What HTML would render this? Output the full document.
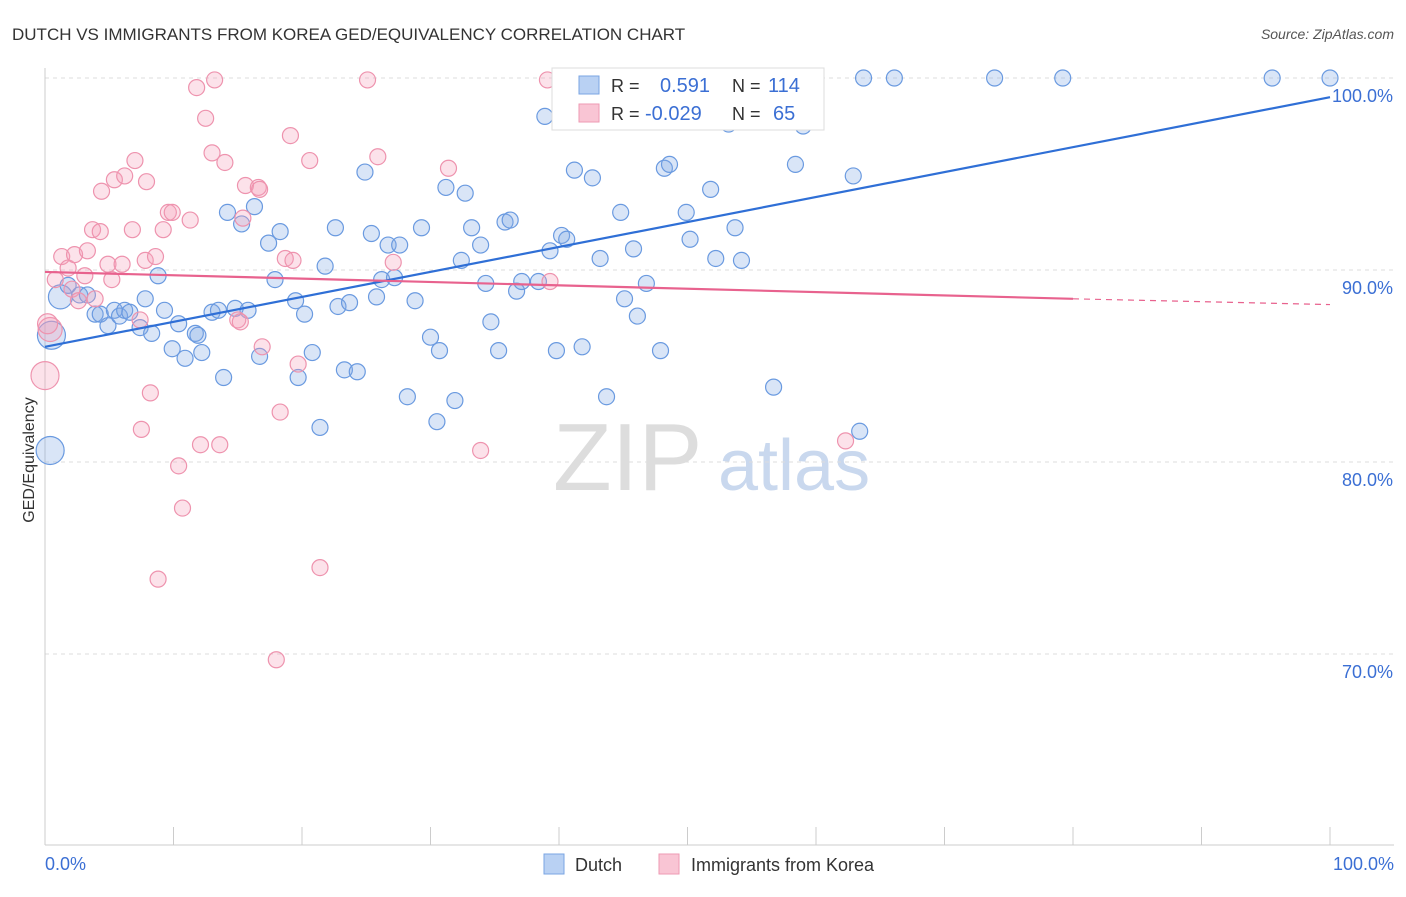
<!DOCTYPE html>
<html><head><meta charset="utf-8"><style>
body{margin:0;background:#fff;font-family:"Liberation Sans",sans-serif;}
svg text{font-family:"Liberation Sans",sans-serif;}
</style></head><body>
<svg id="chart" width="1406" height="892">
<text x="12" y="40" font-size="17" fill="#333">DUTCH VS IMMIGRANTS FROM KOREA GED/EQUIVALENCY CORRELATION CHART</text>
<text x="1394" y="39" font-size="14" fill="#555" font-style="italic" text-anchor="end">Source: ZipAtlas.com</text>
<text x="34" y="460" font-size="16" fill="#333" transform="rotate(-90 34 460)" text-anchor="middle">GED/Equivalency</text>
<g>
<text x="553" y="490" font-size="96" fill="#ddd" font-family="Liberation Serif">ZIP</text>
<text x="718" y="490" font-size="72" fill="#c9d8ee">atlas</text>
</g>
<g id="grid"></g><g id="axes"></g><g id="pts"></g><g id="trend"></g>
<g>
<rect x="552" y="68" width="272" height="62" fill="#fff" stroke="#ddd"/>
<rect x="579" y="76" width="20" height="18" fill="#b9d1f3" stroke="#7aa5e3"/>
<rect x="579" y="104" width="20" height="18" fill="#f9c5d4" stroke="#ee9ab3"/>
<text x="611" y="92" font-size="18" fill="#333">R = </text><text x="660" y="92" font-size="20" fill="#3b6fd4">0.591</text>
<text x="732" y="92" font-size="18" fill="#333">N = </text><text x="768" y="92" font-size="20" fill="#3b6fd4">114</text>
<text x="611" y="120" font-size="18" fill="#333">R = </text><text x="645" y="120" font-size="20" fill="#3b6fd4">-0.029</text>
<text x="732" y="120" font-size="18" fill="#333">N = </text><text x="773" y="120" font-size="20" fill="#3b6fd4">65</text>
</g>
<g>
<rect x="544" y="854" width="20" height="20" fill="#b9d1f3" stroke="#7aa5e3"/>
<text x="575" y="871" font-size="18" fill="#333">Dutch</text>
<rect x="659" y="854" width="20" height="20" fill="#f9c5d4" stroke="#ee9ab3"/>
<text x="691" y="871" font-size="18" fill="#333">Immigrants from Korea</text>
</g>
<text x="45" y="870" font-size="18" fill="#3b6fd4">0.0%</text>
<text x="1394" y="870" font-size="18" fill="#3b6fd4" text-anchor="end">100.0%</text>
</svg>
<script>
const dutchX=[0.4,0.5,1.2,1.8,2.7,3.3,3.9,4.3,4.9,5.4,5.8,6.2,6.6,7.4,7.8,8.3,8.8,9.3,9.9,10.4,10.9,11.7,11.9,12.2,13.0,13.5,13.9,14.2,14.8,15.3,15.8,16.3,16.7,17.4,17.9,18.3,19.5,19.7,20.2,20.8,21.4,21.8,22.6,22.8,23.3,23.7,24.3,24.9,25.4,25.8,26.2,26.7,27.2,27.6,28.2,28.8,29.3,30.0,30.5,30.7,31.2,31.9,32.4,32.7,33.2,33.9,34.3,34.7,35.3,35.8,36.2,36.7,37.1,38.4,38.9,39.3,39.8,40.2,40.6,41.2,41.8,42.6,43.2,43.7,44.8,45.1,45.8,46.1,46.8,47.9,48.2,48.6,49.9,50.2,51.8,52.2,52.8,53.2,53.7,54.2,56.7,58.4,59.0,62.9,63.4,63.7,66.1,73.9,79.2,95.5,100,50.7];
const dutchY=[80.6,86.6,88.6,89.2,88.7,88.7,87.7,87.7,87.1,87.9,87.6,87.9,87.8,87.0,88.5,86.7,89.7,87.9,85.9,87.2,85.4,86.7,86.6,85.7,87.8,87.9,84.4,93.0,88.0,92.4,87.9,93.3,85.5,91.4,89.5,92.0,88.4,84.4,87.7,85.7,81.8,90.2,92.2,88.1,84.8,88.3,84.7,95.1,91.9,88.6,89.5,91.3,89.6,91.3,83.4,88.4,92.2,86.5,82.1,85.8,94.3,83.2,90.5,94.0,92.2,91.3,89.3,87.3,85.8,92.5,92.6,88.9,89.4,89.4,98.0,91.0,85.8,91.8,91.6,95.2,86.0,94.8,90.6,83.4,93.0,88.5,91.1,87.6,89.3,85.8,95.3,95.5,93.0,91.6,94.2,90.6,98.6,97.6,92.2,90.5,83.9,95.5,97.5,94.9,81.6,100,100,100,100,100,100,99.2];
const dutchSize=[14,14,12,8,8,8,8,8,8,8,8,8,8,8,8,8,8,8,8,8,8,8,8,8,8,8,8,8,8,8,8,8,8,8,8,8,8,8,8,8,8,8,8,8,8,8,8,8,8,8,8,8,8,8,8,8,8,8,8,8,8,8,8,8,8,8,8,8,8,8,8,8,8,8,8,8,8,8,8,8,8,8,8,8,8,8,8,8,8,8,8,8,8,8,8,8,8,8,8,8,8,8,8,8,8,8,8,8,8,8,8,8];
const koreaX=[0,0.4,0.8,1.3,1.8,2.1,2.3,2.6,3.1,3.3,3.7,3.9,4.3,4.4,4.9,5.2,5.4,6.0,6.2,6.8,7.0,7.4,7.5,7.8,7.9,8.2,8.6,8.8,9.2,9.6,9.9,10.4,10.7,11.3,11.8,12.1,12.5,13.0,13.2,13.6,14.0,15.0,15.2,15.4,15.6,16.6,16.7,16.9,18.0,18.3,18.7,19.1,19.3,19.7,20.6,21.4,25.1,25.9,27.1,31.4,33.9,39.1,39.3,62.3,0.2];
const koreaY=[84.5,86.9,89.5,90.7,90.1,89.0,90.8,88.4,89.7,91.0,92.1,88.5,92.0,94.1,90.3,89.5,94.7,90.3,94.9,92.1,95.7,87.4,81.7,90.5,94.6,83.6,90.7,73.9,92.1,93.0,93.0,79.8,77.6,92.6,99.5,80.9,97.9,96.1,99.9,80.9,95.6,87.4,87.3,92.7,94.4,94.3,94.2,86.0,69.7,82.6,90.6,97.0,90.5,85.1,95.7,74.5,99.9,95.9,90.4,95.3,80.6,99.9,89.4,81.1,87.2];
const koreaSize=[14,12,8,8,8,8,8,8,8,8,8,8,8,8,8,8,8,8,8,8,8,8,8,8,8,8,8,8,8,8,8,8,8,8,8,8,8,8,8,8,8,8,8,8,8,8,8,8,8,8,8,8,8,8,8,8,8,8,8,8,8,8,8,8,10];
const yTicks=[100,90,80,70];
const yTickLabels=["100.0%","90.0%","80.0%","70.0%"];
const xTicks=[0,10,20,30,40,50,60,70,80,90,100];
const dutchTrend=[86.0,99.0];
const koreaTrend=[89.9,88.5,88.2];
const koreaSolidEnd=80;
const NS="http://www.w3.org/2000/svg";
const sx=v=>45+v*12.85, sy=v=>78+(100-v)*19.2;
function mk(tag,attrs,parent){const e=document.createElementNS(NS,tag);for(const k in attrs)e.setAttribute(k,attrs[k]);document.getElementById(parent).appendChild(e);return e;}
yTicks.forEach((t,i)=>{
 const l=mk('line',{x1:45,x2:1394,y1:sy(t),y2:sy(t),stroke:'#ddd','stroke-dasharray':'4,4'},'grid');
 
 
 const tx=mk('text',{x:1393,y:sy(t)+24,'font-size':18,fill:'#3b6fd4','text-anchor':'end'},'grid');
 tx.textContent=yTickLabels[i];
 
 
});
const ya=mk('line',{x1:45,x2:45,y1:68,y2:845,stroke:'#ccc'},'axes');


const xa=mk('line',{x1:45,x2:1394,y1:845,y2:845,stroke:'#ccc'},'axes');


xTicks.forEach(t=>{
 const l=mk('line',{x1:sx(t),x2:sx(t),y1:827,y2:845,stroke:'#ccc'},'axes');
 
 
});
dutchX.forEach((x,i)=>{
 const c=mk('circle',{cx:sx(x),cy:sy(dutchY[i]),r:dutchSize[i],fill:'rgba(130,170,230,0.3)',stroke:'#6a9ae0','stroke-width':1.2},'pts');
 
 
});
koreaX.forEach((x,i)=>{
 const c=mk('circle',{cx:sx(x),cy:sy(koreaY[i]),r:koreaSize[i],fill:'rgba(245,160,185,0.3)',stroke:'#ee93ae','stroke-width':1.2},'pts');
 
 
});
const bt=mk('line',{x1:sx(0),y1:sy(dutchTrend[0]),x2:sx(100),y2:sy(dutchTrend[1]),stroke:'#2f6fd6','stroke-width':2.2},'trend');


const pt=mk('line',{x1:sx(0),y1:sy(koreaTrend[0]),x2:sx(koreaSolidEnd),y2:sy(koreaTrend[1]),stroke:'#e8628e','stroke-width':2.2},'trend');


const pd=mk('line',{x1:sx(koreaSolidEnd),y1:sy(koreaTrend[1]),x2:sx(100),y2:sy(koreaTrend[2]),stroke:'#e8628e','stroke-width':1.2,'stroke-dasharray':'6,5'},'trend');


</script>
</body></html>
